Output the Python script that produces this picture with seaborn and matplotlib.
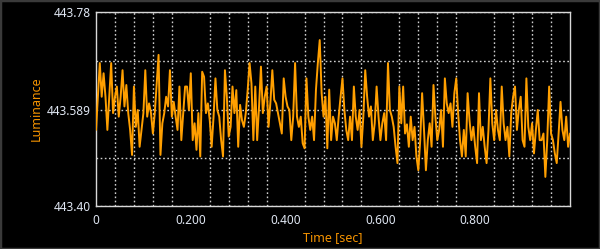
import numpy as np
import pandas as pd
import matplotlib
matplotlib.use("Agg")
import matplotlib.pyplot as plt
import seaborn as sns
from matplotlib.patches import Rectangle

# ---- data ----
sample_dt = 0.004
luminance = [
    443.549, 443.614, 443.680, 443.614, 443.660, 443.614, 443.549, 443.614, 443.680, 443.582,
    443.614, 443.634, 443.575, 443.614, 443.666, 443.595, 443.637, 443.582, 443.549, 443.500,
    443.634, 443.555, 443.588, 443.516, 443.549, 443.582, 443.666, 443.575, 443.601, 443.582,
    443.542, 443.582, 443.640, 443.696, 443.500, 443.562, 443.582, 443.614, 443.595, 443.666,
    443.575, 443.604, 443.575, 443.549, 443.634, 443.529, 443.582, 443.634, 443.634, 443.588,
    443.660, 443.529, 443.562, 443.510, 443.582, 443.497, 443.663, 443.653, 443.582, 443.601,
    443.568, 443.516, 443.575, 443.650, 443.588, 443.575, 443.529, 443.497, 443.666, 443.614,
    443.536, 443.555, 443.634, 443.582, 443.627, 443.516, 443.598, 443.568, 443.555, 443.582,
    443.627, 443.680, 443.640, 443.529, 443.634, 443.529, 443.595, 443.673, 443.582, 443.614,
    443.634, 443.555, 443.604, 443.666, 443.608, 443.601, 443.582, 443.562, 443.542, 443.650,
    443.614, 443.595, 443.588, 443.529, 443.575, 443.680, 443.575, 443.555, 443.575, 443.523,
    443.513, 443.650, 443.575, 443.549, 443.575, 443.529, 443.627, 443.680, 443.725, 443.621,
    443.575, 443.614, 443.513, 443.628, 443.529, 443.575, 443.562, 443.529, 443.575, 443.614,
    443.650, 443.588, 443.549, 443.529, 443.575, 443.529, 443.634, 443.575, 443.549, 443.588,
    443.516, 443.575, 443.666, 443.614, 443.575, 443.595, 443.529, 443.562, 443.634, 443.575,
    443.529, 443.562, 443.582, 443.529, 443.680, 443.588, 443.575, 443.555, 443.516, 443.484,
    443.634, 443.562, 443.634, 443.542, 443.560, 443.516, 443.575, 443.529, 443.555, 443.497,
    443.470, 443.529, 443.621, 443.549, 443.470, 443.529, 443.562, 443.516, 443.637, 443.575,
    443.529, 443.549, 443.588, 443.516, 443.650, 443.601, 443.582, 443.601, 443.555, 443.621,
    443.650, 443.582, 443.529, 443.497, 443.549, 443.497, 443.621, 443.568, 443.529, 443.555,
    443.516, 443.484, 443.621, 443.529, 443.555, 443.516, 443.484, 443.549, 443.650, 443.562,
    443.529, 443.588, 443.549, 443.529, 443.634, 443.562, 443.529, 443.555, 443.497, 443.582,
    443.614, 443.634, 443.549, 443.588, 443.614, 443.529, 443.516, 443.650, 443.555, 443.529,
    443.562, 443.503, 443.549, 443.588, 443.529, 443.529, 443.542, 443.457, 443.529, 443.634,
    443.542, 443.529, 443.503, 443.484, 443.542, 443.604, 443.549, 443.529, 443.575, 443.516,
    443.542,
]
time_sec = np.arange(len(luminance)) * sample_dt

y_ticks = [443.40, 443.589, 443.78]
y_tick_labels = ["443.40", "443.589", "443.78"]
y_band = [443.4945, 443.6835]
x_ticks = [0, 0.2, 0.4, 0.6, 0.8]
x_tick_labels = ["0", "0.200", "0.400", "0.600", "0.800"]
x_grid_step = 0.04

df = pd.DataFrame({"Time [sec]": time_sec, "Luminance": luminance})

# ---- style ----
sns.set_style("dark")
plt.rcParams["font.family"] = ["Noto Sans", "DejaVu Sans"]

bg = "#000000"
tick_col = "#dfe6f2"
orange = "#f39200"
line_col = "#ff9f00"
grid_col = "#cfcfcf"

fig = plt.figure(figsize=(6.0, 2.49), dpi=100, facecolor=bg)
ax = fig.add_axes([96 / 600, 1 - 206 / 249, 474 / 600, 194 / 249])
ax.set_facecolor(bg)

sns.lineplot(data=df, x="Time [sec]", y="Luminance", ax=ax, color=line_col,
             linewidth=1.4, estimator=None, zorder=3)

ax.set_xlim(0, 1.0)
ax.set_ylim(y_ticks[0], y_ticks[-1])

ax.set_yticks(y_ticks)
ax.set_yticklabels(y_tick_labels)
ax.set_yticks(y_band, minor=True)
ax.set_xticks(x_ticks)
ax.set_xticklabels(x_tick_labels)
ax.set_xticks(np.arange(x_grid_step, 1.0, x_grid_step), minor=True)

ax.tick_params(axis="both", which="both", length=0, colors=tick_col, labelsize=8.5)
ax.tick_params(axis="y", pad=4)
ax.tick_params(axis="x", pad=6)

ax.grid(False)
ax.yaxis.grid(True, which="both", color=grid_col, linestyle=(0, (1.2, 1.8)), linewidth=1.0, zorder=1)
ax.xaxis.grid(True, which="minor", color=grid_col, linestyle=(0, (1.2, 1.8)), linewidth=1.0, zorder=1)

for s in ax.spines.values():
    s.set_visible(True)
    s.set_color("#d8d8d8")
    s.set_linewidth(1.0)

ax.set_xlabel("Time [sec]", color=orange, fontsize=9, labelpad=3)
ax.set_ylabel("Luminance", color=orange, fontsize=9)
ax.yaxis.set_label_coords(-0.112, 0.5)

fig.patches.append(Rectangle((0, 0), 1, 1, transform=fig.transFigure, fill=False,
                             edgecolor="#3a3a3a", linewidth=2.5))

fig.savefig("out.png", dpi=100, facecolor=bg)
